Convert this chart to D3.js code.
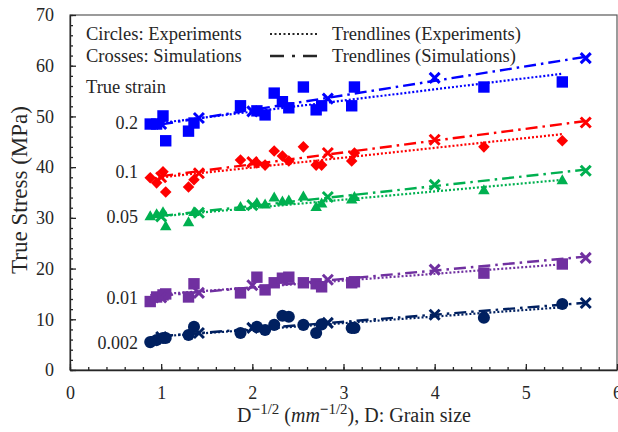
<!DOCTYPE html>
<html>
<head>
<meta charset="utf-8">
<script src="https://cdn.jsdelivr.net/npm/d3@7/dist/d3.min.js"></script>
<style>
  body { margin: 0; background: #fff; }
  svg text { font-family: "Liberation Serif", "Times New Roman", serif; fill: #262626; }
</style>
</head>
<body>
<div id="chart"></div>
<script>
// strain levels, top to bottom
const strains = ['0.2', '0.1', '0.05', '0.01', '0.002'];

// D^-1/2 of the tested specimens (experiments)
const expX = [0.88, 0.95, 1.02, 1.05, 1.30, 1.36, 1.87, 2.05, 2.14, 2.24, 2.33, 2.40, 2.56, 2.70, 2.76, 3.09, 3.12, 4.54, 5.40];
const exp02 = [48.5, 48.5, 50.1, 45.2, 47.1, 48.7, 52.1, 51.1, 50.3, 54.6, 52.9, 51.7, 55.8, 51.3, 52.1, 52.1, 55.8, 55.8, 56.8];
const exp01 = [37.9, 36.9, 39.1, 35.1, 36.1, 37.5, 41.4, 40.8, 40.4, 43.2, 42.2, 41.2, 44.0, 40.4, 40.4, 41.2, 42.8, 44.0, 45.2];
const exp005 = [30.2, 30.6, 31.0, 28.2, 29.0, 31.0, 32.0, 32.8, 32.5, 33.9, 33.1, 33.3, 34.1, 32.0, 32.7, 33.5, 34.0, 35.3, 37.3];
const exp001 = [13.5, 14.4, 14.8, 15.0, 14.4, 17.0, 15.2, 18.3, 15.8, 17.2, 18.1, 18.3, 17.2, 17.0, 16.4, 17.2, 17.4, 19.1, 20.9];
const exp0002 = [5.5, 5.9, 6.3, 6.3, 6.9, 8.5, 7.3, 8.5, 7.9, 8.9, 10.7, 10.5, 8.9, 7.3, 9.0, 8.3, 8.3, 10.3, 13.0];

// simulations
const simX = [1, 1.414, 2, 2.828, 4, 5.657];
const sim02 = [48.5, 49.7, 51.0, 53.5, 57.6, 61.5];
const sim01 = [38.0, 38.8, 41.0, 42.8, 45.4, 48.8];
const sim005 = [30.3, 31.0, 32.5, 34.1, 36.5, 39.3];
const sim001 = [14.3, 15.2, 16.7, 17.8, 19.8, 22.1];
const sim0002 = [6.5, 7.3, 8.3, 9.3, 10.9, 13.2];

const xTicks = [0, 1, 2, 3, 4, 5, 6];
const yTicks = [0, 10, 20, 30, 40, 50, 60, 70];

const expSets = [exp02, exp01, exp005, exp001, exp0002];
const simSets = [sim02, sim01, sim005, sim001, sim0002];
const colors = ['#0000ff', '#ff0000', '#00b050', '#7030a0', '#002060'];
const markers = ['square', 'diamond', 'triangle', 'square', 'circle'];
const labelY = [129, 178, 223, 304, 349];

const W = 618, H = 432;
const Plot = { Left: 70, Right: 617, Top: 15, Bottom: 370 };

const svg = d3.select('#chart').append('svg')
  .attr('width', W).attr('height', H);

const x = d3.scaleLinear().domain([0, 6]).range([Plot.Left, Plot.Right]);
const y = d3.scaleLinear().domain([0, 70]).range([Plot.Bottom, Plot.Top]);

// plot border
svg.append('rect')
  .attr('x', Plot.Left).attr('y', Plot.Top)
  .attr('width', Plot.Right - Plot.Left).attr('height', Plot.Bottom - Plot.Top)
  .attr('fill', 'none').attr('stroke', '#595959').attr('stroke-width', 1.2);

// axes, ticks pointing inward
const xMinor = d3.range(0, 6.01, 0.2);
const yMinor = d3.range(0, 70.1, 2);

svg.append('g')
  .attr('transform', `translate(0,${Plot.Bottom})`)
  .call(d3.axisBottom(x).tickValues(xMinor).tickSize(-3).tickFormat(''))
  .call(g => g.select('.domain').remove());
svg.append('g')
  .attr('transform', `translate(${Plot.Left},0)`)
  .call(d3.axisLeft(y).tickValues(yMinor).tickSize(-3).tickFormat(''))
  .call(g => g.select('.domain').remove());

svg.append('g')
  .attr('transform', `translate(0,${Plot.Bottom})`)
  .call(d3.axisBottom(x).tickValues(xTicks).tickSizeInner(-6).tickSizeOuter(0).tickPadding(16).tickFormat(d3.format('d')));
svg.append('g')
  .attr('transform', `translate(${Plot.Left},0)`)
  .call(d3.axisLeft(y).tickValues(yTicks).tickSizeInner(-6).tickSizeOuter(0).tickPadding(16).tickFormat(d3.format('d')));

svg.selectAll('.tick line, .domain').attr('stroke', '#262626').attr('stroke-width', 1.3);
svg.selectAll('.tick text').style('font-size', '18px').style('font-family', '"Liberation Serif", serif').attr('fill', '#262626');

// linear trendline (least squares)
function fit(xs, ys) {
  const mx = d3.mean(xs), my = d3.mean(ys);
  let num = 0, den = 0;
  xs.forEach((v, i) => { num += (v - mx) * (ys[i] - my); den += (v - mx) * (v - mx); });
  const b = num / den;
  return v => my + b * (v - mx);
}

const line = d3.line().x(d => x(d[0])).y(d => y(d[1]));

strains.forEach((s, k) => {
  const c = colors[k];
  const fe = fit(expX, expSets[k]);
  const fs = fit(simX, simSets[k]);
  const ex0 = d3.min(expX), ex1 = d3.max(expX);
  const sx0 = d3.min(simX), sx1 = d3.max(simX);

  svg.append('path')
    .attr('d', line([[ex0, fe(ex0)], [ex1, fe(ex1)]]))
    .attr('fill', 'none').attr('stroke', c).attr('stroke-width', 2.2)
    .attr('stroke-dasharray', '2,2');
  svg.append('path')
    .attr('d', line([[sx0, fs(sx0)], [sx1, fs(sx1)]]))
    .attr('fill', 'none').attr('stroke', c).attr('stroke-width', 2.4)
    .attr('stroke-dasharray', '12,5,2.5,5');

  // experiment markers
  const pts = expX.map((v, i) => [v, expSets[k][i]]);
  const sym = {
    square: d3.symbolSquare, diamond: d3.symbolDiamond2,
    triangle: d3.symbolTriangle2, circle: d3.symbolCircle
  }[markers[k]];
  const size = { square: 130, diamond: 85, triangle: 95, circle: 115 }[markers[k]];
  svg.append('g').selectAll('path')
    .data(pts).enter().append('path')
    .attr('transform', d => `translate(${x(d[0])},${y(d[1])})`)
    .attr('d', d3.symbol().type(sym).size(size))
    .attr('fill', c);

  // simulation crosses
  svg.append('g').selectAll('path')
    .data(simX.map((v, i) => [v, simSets[k][i]])).enter().append('path')
    .attr('transform', d => `translate(${x(d[0])},${y(d[1])})`)
    .attr('d', 'M-5,-5L5,5M-5,5L5,-5')
    .attr('stroke', c).attr('stroke-width', 3).attr('fill', 'none');

  // strain label
  svg.append('text')
    .attr('x', 138).attr('y', labelY[k])
    .attr('text-anchor', 'end').style('font-size', '18px')
    .text(s);
});

// legend
const legend = svg.append('g').style('font-size', '18.5px');
legend.append('text').attr('x', 86).attr('y', 40).text('Circles: Experiments');
legend.append('text').attr('x', 86).attr('y', 62).text('Crosses: Simulations');
legend.append('text').attr('x', 86).attr('y', 93).text('True strain');
legend.append('line').attr('x1', 270).attr('x2', 318).attr('y1', 34).attr('y2', 34)
  .attr('stroke', '#262626').attr('stroke-width', 2).attr('stroke-dasharray', '2,2.5');
legend.append('line').attr('x1', 270).attr('x2', 320).attr('y1', 56).attr('y2', 56)
  .attr('stroke', '#262626').attr('stroke-width', 2.4).attr('stroke-dasharray', '14,8,3,8');
legend.append('text').attr('x', 332).attr('y', 40).text('Trendlines (Experiments)');
legend.append('text').attr('x', 332).attr('y', 62).text('Trendlines (Simulations)');

// axis titles
svg.append('text')
  .attr('transform', 'translate(27,190) rotate(-90)')
  .attr('text-anchor', 'middle').style('font-size', '23px')
  .text('True Stress (MPa)');

const xt = svg.append('text')
  .attr('x', 354).attr('y', 422)
  .attr('text-anchor', 'middle').style('font-size', '20px');
xt.append('tspan').text('D');
xt.append('tspan').attr('dy', -8).style('font-size', '15px').style('font-weight', 'bold').text('\u2212');
xt.append('tspan').style('font-size', '15px').text('1/2');
xt.append('tspan').attr('dy', 8).text(' (');
xt.append('tspan').style('font-style', 'italic').text('mm');
xt.append('tspan').attr('dy', -8).style('font-size', '15px').style('font-weight', 'bold').text('\u2212');
xt.append('tspan').style('font-size', '15px').text('1/2');
xt.append('tspan').attr('dy', 8).text('), D: Grain size');
</script>
</body>
</html>
